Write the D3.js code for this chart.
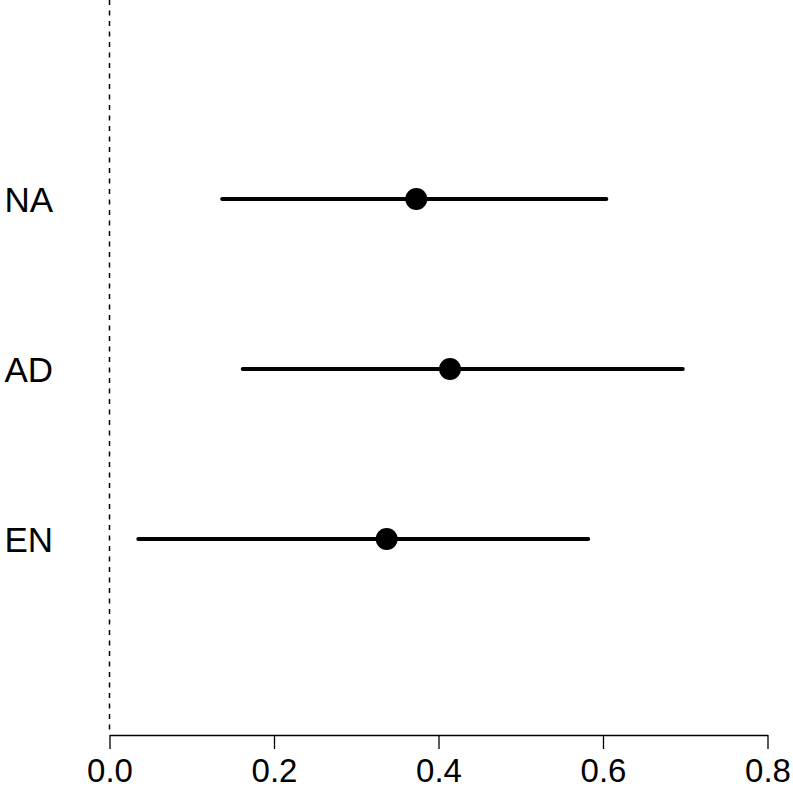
<!DOCTYPE html>
<html>
<head>
<meta charset="utf-8">
<script src="https://cdn.jsdelivr.net/npm/d3@7"></script>
<style>
  body { margin: 0; background: #fff; overflow: hidden; }
  text { font-family: "Liberation Sans", Arial, Helvetica, sans-serif; }
</style>
</head>
<body>
<div id="chart"></div>
<script>
// data
var labels = ["NA", "AD", "EN"]
var rowPos = [3, 2, 1]
var estimate = [0.373, 0.414, 0.337]
var lower = [0.137, 0.162, 0.035]
var upper = [0.604, 0.697, 0.582]
var xTicks = [0.0, 0.2, 0.4, 0.6, 0.8]

var width = 793,
    height = 789

var svg = d3.select("#chart")
    .append("svg")
    .attr("width", width)
    .attr("height", height)
    .style("display", "block")

var x = d3.scaleLinear().domain([0, 0.8]).range([109.5, 767.5])
var y = d3.scaleLinear().domain([0, 4]).range([709, 29])
var axisY = 735

// dashed reference line at zero
svg.append("line")
    .attr("x1", x(0)).attr("x2", x(0))
    .attr("y1", 0).attr("y2", axisY)
    .attr("stroke", "black")
    .attr("stroke-width", 1.5)
    .attr("stroke-dasharray", "5,5.5")

// bottom axis
var axis = svg.append("g")
    .attr("transform", "translate(0," + axisY + ")")
    .call(d3.axisBottom(x)
        .tickValues(xTicks)
        .tickFormat(d3.format(".1f"))
        .tickSize(14)
        .tickSizeOuter(0))
axis.select(".domain").attr("stroke-width", 1.3)
axis.selectAll(".tick line").attr("stroke-width", 1.3)
axis.selectAll(".tick text")
    .attr("y", 47)
    .attr("dy", 0)
    .attr("font-size", "33px")
    .attr("font-family", "Liberation Sans, Arial, Helvetica, sans-serif")
    .attr("fill", "black")

var rows = labels.map(function (d, i) {
    return {label: d, pos: rowPos[i], est: estimate[i], lo: lower[i], hi: upper[i]}
})

// interval lines
svg.selectAll("line.ci")
    .data(rows)
    .enter()
    .append("line")
    .attr("class", "ci")
    .attr("x1", function (d) { return x(d.lo) })
    .attr("x2", function (d) { return x(d.hi) })
    .attr("y1", function (d) { return y(d.pos) })
    .attr("y2", function (d) { return y(d.pos) })
    .attr("stroke", "black")
    .attr("stroke-width", 4)
    .attr("stroke-linecap", "round")

// point estimates
svg.selectAll("circle")
    .data(rows)
    .enter()
    .append("circle")
    .attr("cx", function (d) { return x(d.est) })
    .attr("cy", function (d) { return y(d.pos) })
    .attr("r", 11)
    .attr("fill", "black")

// row labels
svg.selectAll("text.lab")
    .data(rows)
    .enter()
    .append("text")
    .attr("class", "lab")
    .attr("x", 53)
    .attr("y", function (d) { return y(d.pos) + 13 })
    .attr("text-anchor", "end")
    .attr("font-size", "35px")
    .text(function (d) { return d.label })
</script>
</body>
</html>
